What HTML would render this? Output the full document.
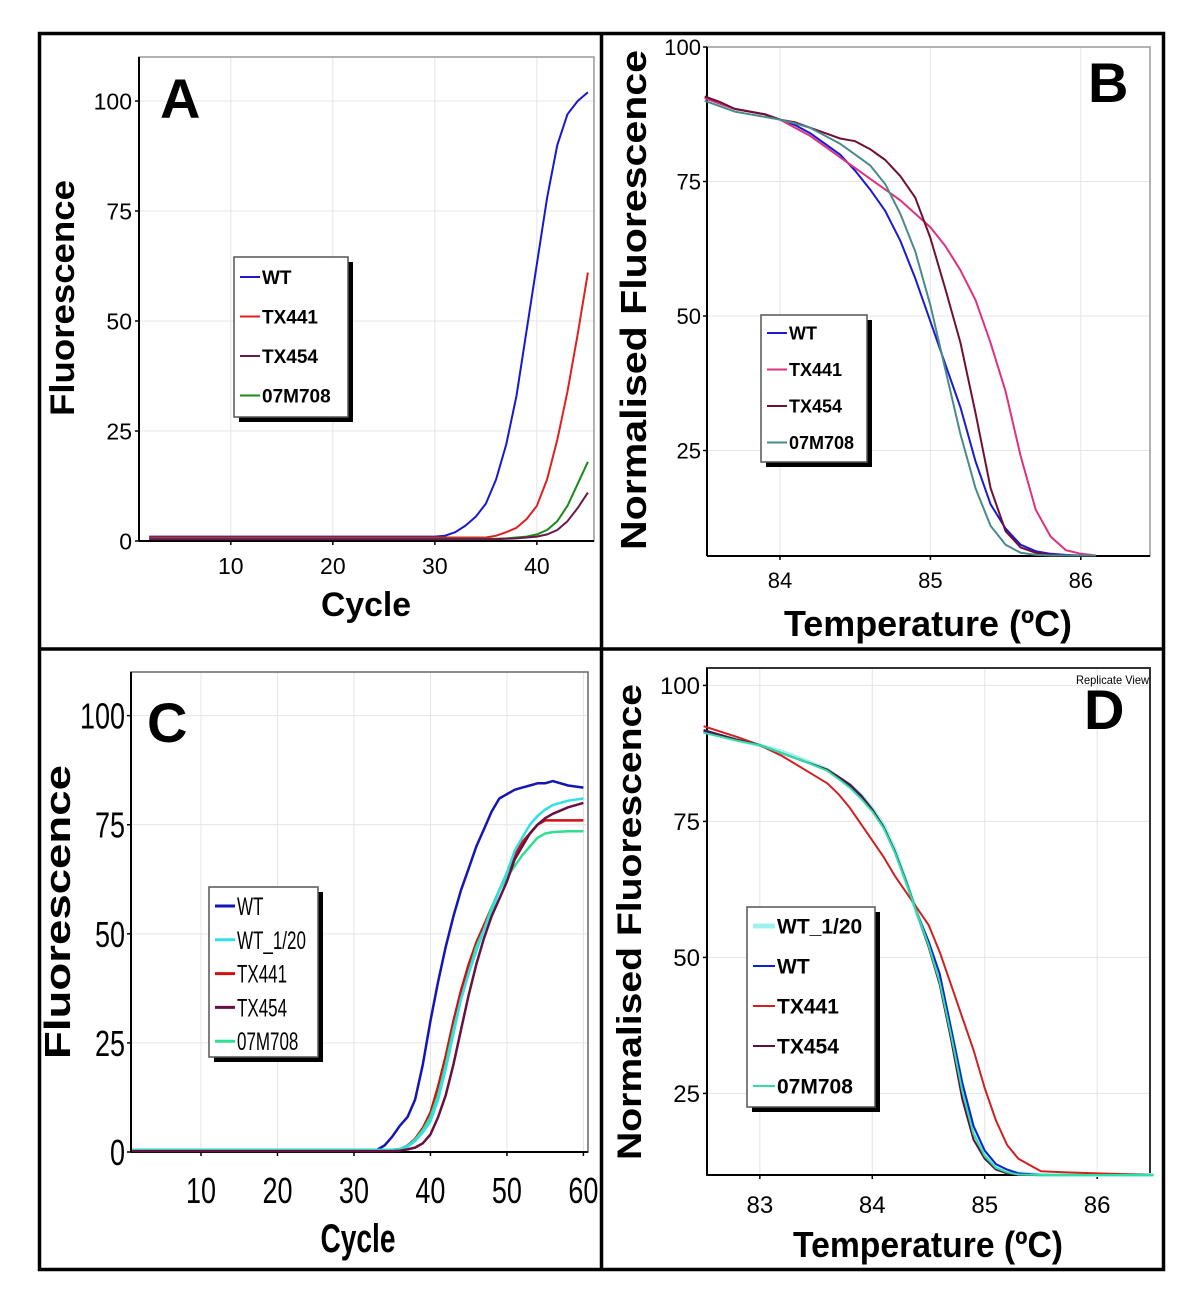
<!DOCTYPE html>
<html><head><meta charset="utf-8"><style>
html,body{margin:0;padding:0;background:#fff;}
svg{display:block;}
text{font-family:"Liberation Sans",sans-serif;}
</style></head><body>
<svg id="fig" width="1200" height="1292" viewBox="0 0 1200 1292" xmlns="http://www.w3.org/2000/svg">
<rect x="0" y="0" width="1200" height="1292" fill="#fff"/>
<g id="frame">
<rect x="39.5" y="33.5" width="1124" height="1236" fill="none" stroke="#000" stroke-width="3.5"/>
<line x1="601.5" y1="33" x2="601.5" y2="1270" stroke="#000" stroke-width="3.5"/>
<line x1="39" y1="649" x2="1164" y2="649" stroke="#000" stroke-width="3.5"/>
</g>
</svg>
<script>
// ---------- Panel A data ----------
const aCycles = [2,5,10,15,20,25,30,31,32,33,34,35,36,37,38,39,40,41,42,43,44,45];
const aWT     = [1,1,1,1,1,1,1,1.2,2,3.5,5.5,8.5,14,22,33,48,63,78,90,97,100,102];
const aTX441  = [0.8,0.8,0.8,0.8,0.8,0.8,0.8,0.8,0.8,0.8,0.8,0.8,1.2,2,3,5,8,14,23,34,47,61];
const aTX454  = [0.4,0.4,0.4,0.4,0.4,0.4,0.4,0.4,0.4,0.4,0.4,0.4,0.4,0.5,0.6,0.8,1,1.5,2.5,4.5,7.5,11];
const a07M708 = [0.5,0.5,0.5,0.5,0.5,0.5,0.5,0.5,0.5,0.5,0.5,0.5,0.5,0.6,0.8,1,1.5,2.5,4.5,8,13,18];
const aXTicks = [10,20,30,40];
const aYTicks = [0,25,50,75,100];

// ---------- Panel B data ----------
const bTemps  = [83.5,83.6,83.7,83.8,83.9,84.0,84.1,84.2,84.3,84.4,84.5,84.6,84.7,84.8,84.9,85.0,85.1,85.2,85.3,85.4,85.5,85.6,85.7,85.8,85.9,86.0,86.1];
const bWT     = [90.5,89.5,88.5,88,87.5,86.5,85.5,84,82,80,77,73.5,69.5,64,57,49,41,33,23,15,10.5,7.5,6.3,5.8,5.6,5.5,5.5];
const bTX441  = [90.5,89.5,88.5,88,87.5,86.5,85,83.5,81.5,79.5,77.5,75.5,73.5,71.5,69,66.5,63,58.5,53,45,36,24,14,9,6.5,5.8,5.5];
const bTX454  = [90.8,89.8,88.5,88,87.5,86.5,86,85,84,83,82.5,81,79,76,72,64.5,55,45,32,18,10,7,6,5.6,5.5,5.5,5.5];
const b07M708 = [90,89,88,87.5,87,86.5,85.8,85,83.5,82,80,78,74.5,69,62,52,40,28,18,11,7.5,6,5.6,5.5,5.5,5.5,5.5];
const bXTicks = [84,85,86];
const bYTicks = [25,50,75,100];

// ---------- Panel C data ----------
const cCycles = [1,10,20,30,33,34,35,36,37,38,39,40,41,42,43,44,45,46,47,48,49,50,51,52,53,54,55,56,58,60];
const cWT     = [0.5,0.5,0.5,0.5,0.5,1.5,3.5,6,8,12,20,30,39,47,54,60,65,70,74,78,81,82,83,83.5,84,84.5,84.5,85,84,83.5];
const cWT120  = [0.4,0.4,0.4,0.4,0.4,0.4,0.4,0.6,1.2,2.5,4.5,7,12,19,27,35,41,46,51,55,60,64,69,72,75,77,78.5,79.5,80.5,81];
const cTX441  = [0.3,0.3,0.3,0.3,0.3,0.3,0.4,0.6,1.5,3,5.5,9,15,22,30,37,43,48,52,56,60,64,68,71,73,75,76,76,76,76];
const cTX454  = [0.2,0.2,0.2,0.2,0.2,0.2,0.2,0.3,0.6,1,2,4,8,13,20,28,36,43,49,54,58,62,67,70,73,75,76.5,77.5,79,80];
const c07M708 = [0.5,0.5,0.5,0.5,0.5,0.5,0.5,0.7,1.4,2.8,5,8,13,20,28,35,41,47,51,56,60,63,65.5,68,70,72,73,73.3,73.5,73.5];
const cXTicks = [10,20,30,40,50,60];
const cYTicks = [0,25,50,75,100];

// ---------- Panel D data ----------
const dTemps  = [82.5,82.8,83.0,83.2,83.4,83.6,83.7,83.8,83.9,84.0,84.1,84.2,84.3,84.4,84.5,84.6,84.7,84.8,84.9,85.0,85.1,85.2,85.3,85.5,85.7,86.0,86.5];
const dWT120  = [91.5,90,89,87.8,86.2,84.5,83,81.7,79.8,77.3,74.3,69.8,64,58,52.5,46,36.5,26.5,18.5,14,11.7,10.8,10.3,10,10,10,10];
const dWT     = [91.5,90,89,87.5,86,84.5,83,81.5,79.5,77,74,69.5,64,58,53,47,37,27,19,14.5,12,11,10.3,10,10,10,10];
const dTX441  = [92.5,90.5,89,87,84.5,82,80,77.5,74.5,71.5,68.5,65,62,59,56,51,45,39,33,26,20,15.5,13,10.7,10.5,10.3,10];
const dTX454  = [91.8,90,89,87.5,86,84.5,83.2,81.8,79.8,77.2,74,69.5,64,58,52,45,35,24,16.5,13,11,10.3,10,10,10,10,10];
const d07M708 = [91.3,89.8,89,87.5,86,84.3,82.8,81.2,79.2,76.8,73.8,69.3,63.8,58,52.3,45.5,35.8,25.5,17.5,13.5,11.3,10.5,10.1,10,10,10,10];
const dXTicks = [83,84,85,86];
const dYTicks = [25,50,75,100];

const NS = "http://www.w3.org/2000/svg";
const svg = document.getElementById('fig');
function mk(tag, attrs, parent){
  const e = document.createElementNS(NS, tag);
  for (const k in attrs) e.setAttribute(k, attrs[k]);
  (parent||svg).appendChild(e);
  return e;
}
function linScale(d0,d1,r0,r1){ return v => r0 + (v-d0)/(d1-d0)*(r1-r0); }

function drawPanel(p){
  const g = mk('g',{});
  
  
  const X = linScale(p.xd[0],p.xd[1],p.l,p.r);
  const Y = linScale(p.yd[0],p.yd[1],p.b,p.t);
  const grid = mk('g',{},g);
  
  
  p.xt.forEach(v=>{ mk('line',{x1:X(v),x2:X(v),y1:p.t,y2:p.b,stroke:'#e4e4e4','stroke-width':1},grid); });
  p.yt.forEach(v=>{ mk('line',{x1:p.l,x2:p.r,y1:Y(v),y2:Y(v),stroke:'#e4e4e4','stroke-width':1},grid); });
  const box = mk('rect',{x:p.l,y:p.t,width:p.r-p.l,height:p.b-p.t,fill:'none',stroke:p.boxColor,'stroke-width':p.boxW},g);
  
  
  const ax = mk('g',{},g);
  
  
  mk('line',{x1:p.l,x2:p.l,y1:p.t,y2:p.b,stroke:'#000','stroke-width':2},ax);
  mk('line',{x1:p.l,x2:p.r,y1:p.b,y2:p.b,stroke:'#000','stroke-width':2},ax);
  const xl = mk('g',{},g);
  
  
  p.xt.forEach(v=>{
    mk('line',{x1:X(v),x2:X(v),y1:p.b,y2:p.b+4,stroke:'#000','stroke-width':1.5},xl);
    const t = mk('text',{x:X(v),y:p.xlY,'text-anchor':'middle','font-size':p.tf,'font-family':p.tfam,transform:p.tsx?`translate(${X(v)},0) scale(${p.tsx},1) translate(${-X(v)},0)`:''},xl);
    t.textContent = v;
  });
  const yl = mk('g',{},g);
  
  
  p.yt.forEach(v=>{
    mk('line',{x1:p.l-4,x2:p.l,y1:Y(v),y2:Y(v),stroke:'#000','stroke-width':1.5},yl);
    const t = mk('text',{x:p.ylX,y:Y(v)+p.tf*0.36,'text-anchor':'end','font-size':p.tf,'font-family':p.tfam,transform:p.tsx?`translate(${p.ylX},0) scale(${p.tsx},1) translate(${-p.ylX},0)`:''},yl);
    t.textContent = v;
  });
  p.series.forEach(s=>{
    const d = p.xs.map((x,i)=>(i?'L':'M')+X(x).toFixed(1)+','+Y(s.v[i]).toFixed(1)).join(' ');
    const path = mk('path',{d:d,fill:'none',stroke:s.c,'stroke-width':s.w||2,'stroke-linejoin':'round'},g);
    
    
  });
  const yt = mk('text',{x:0,y:0,'font-size':p.ytf,'font-weight':'bold','text-anchor':'middle',textLength:p.ytLen,lengthAdjust:'spacingAndGlyphs',transform:`translate(${p.ytX},${p.ytY}) rotate(-90)`},g);
  yt.textContent = p.ytTxt;
  
  
  const xtt = mk('text',{x:p.xtX - p.xtLen/2,y:p.xtY,'font-size':p.xtf,'font-weight':'bold','font-family':p.xtfam||'Liberation Sans',textLength:p.xtLen,lengthAdjust:'spacingAndGlyphs'},g);
  xtt.textContent = p.xtTxt;
  
  
  const L = mk('text',{x:p.letX,y:p.letY,'font-size':56,'font-weight':'bold'},g);
  L.textContent = p.letter;
  
  
  const lg = mk('g',{},g);
  
  
  const lb = p.leg;
  mk('rect',{x:lb.x+5,y:lb.y+5,width:lb.w,height:lb.h,fill:'#000'},lg);
  mk('rect',{x:lb.x,y:lb.y,width:lb.w,height:lb.h,fill:'#fff',stroke:'#555','stroke-width':1.5},lg);
  p.series.slice().sort((a,b)=>a.li-b.li).forEach((s,i)=>{
    const yy = lb.y0 + i*lb.dy;
    const e = mk('g',{},lg);
    
    
    mk('line',{x1:lb.x+6,x2:lb.x+lb.lw,y1:yy,y2:yy,stroke:s.c,'stroke-width':s.lgw||2},e);
    const t = mk('text',{x:lb.x+lb.lw+2,y:yy+lb.fs*0.36,'font-size':lb.fs,'font-weight':lb.bold?'bold':'normal','font-family':lb.fam||'Liberation Sans',transform:lb.sx?`translate(${lb.x+lb.lw+2},0) scale(${lb.sx},1) translate(${-(lb.x+lb.lw+2)},0)`:''},e);
    t.textContent = s.n;
  });
}

drawPanel({id:'panel-a',name:'panel-a-amplification-chart',letter:'A',letX:160,letY:118,
  l:139,r:594,t:57,b:541,xd:[1,45.6],yd:[0,110],xs:aCycles,xt:aXTicks,yt:aYTicks,
  boxColor:'#999',boxW:1.5,tf:23,tfam:'Liberation Sans',xlY:574,ylX:132,
  ytTxt:'Fluorescence',ytf:34,ytLen:236,ytX:74,ytY:298,
  xtTxt:'Cycle',xtf:34,xtLen:90,xtX:366,xtY:616,
  leg:{x:234,y:257,w:114,h:160,y0:277,dy:39.5,lw:26,fs:19,bold:true},
  series:[{n:'WT',v:aWT,c:'#1818d0',li:0},{n:'TX441',v:aTX441,c:'#e02020',li:1},
          {n:'07M708',v:a07M708,c:'#1a8a1a',li:3},{n:'TX454',v:aTX454,c:'#6a1a4a',li:2}]});

drawPanel({id:'panel-b',name:'panel-b-melt-curve-chart',letter:'B',letX:1088,letY:102,
  l:707,r:1150,t:47,b:556,xd:[83.515,86.46],yd:[5.4,100],xs:bTemps,xt:bXTicks,yt:bYTicks,
  boxColor:'#999',boxW:1.5,tf:22,tfam:'Liberation Sans',xlY:588,ylX:701,
  ytTxt:'Normalised Fluorescence',ytf:36,ytLen:500,ytX:646,ytY:300,
  xtTxt:'Temperature (ºC)',xtf:36,xtLen:288,xtX:928,xtY:636,
  leg:{x:761,y:315,w:106,h:147,y0:333,dy:36.5,lw:26,fs:18,bold:true},
  series:[{n:'WT',v:bWT,c:'#1a1ad0',li:0},{n:'TX441',v:bTX441,c:'#e03080',li:1},
          {n:'TX454',v:bTX454,c:'#701030',li:2},{n:'07M708',v:b07M708,c:'#4a8a8a',li:3}]});

drawPanel({id:'panel-c',name:'panel-c-amplification-chart',letter:'C',letX:147,letY:742,
  l:131,r:588,t:672,b:1152,xd:[0.85,60.6],yd:[0,110],xs:cCycles,xt:cXTicks,yt:cYTicks,
  boxColor:'#666',boxW:1.5,tf:36,tfam:'Liberation Sans Narrow, Liberation Sans',tsx:0.75,xlY:1203,ylX:125,
  ytTxt:'Fluorescence',ytf:36,ytLen:294,ytX:70,ytY:912,
  xtTxt:'Cycle',xtf:40,xtLen:75,xtX:358,xtY:1252,xtfam:'Liberation Sans Narrow',
  leg:{x:209,y:887,w:109,h:170,y0:906,dy:33.8,lw:26,fs:25,bold:false,fam:'Liberation Sans Narrow, Liberation Sans',sx:0.68},
  series:[{n:'WT',v:cWT,c:'#1515b5',w:2.5,lgw:3,li:0},{n:'TX441',v:cTX441,c:'#d01010',w:2.5,lgw:3,li:2},
          {n:'07M708',v:c07M708,c:'#30e090',w:2.5,lgw:3,li:4},{n:'WT_1/20',v:cWT120,c:'#30e0e8',w:2.5,lgw:3,li:1},
          {n:'TX454',v:cTX454,c:'#6a1040',w:2.5,lgw:3,li:3}]});

drawPanel({id:'panel-d',name:'panel-d-melt-curve-chart',letter:'D',letX:1084,letY:729,
  l:707,r:1150,t:668,b:1175,xd:[82.53,86.47],yd:[10,103.2],xs:dTemps,xt:dXTicks,yt:dYTicks,
  boxColor:'#333',boxW:2,tf:24,tfam:'Liberation Sans',xlY:1213,ylX:700,
  ytTxt:'Normalised Fluorescence',ytf:34,ytLen:476,ytX:641,ytY:922,
  xtTxt:'Temperature (ºC)',xtf:36,xtLen:270,xtX:928,xtY:1257,
  leg:{x:747,y:907,w:128,h:200,y0:926,dy:40,lw:28,fs:21,bold:true},
  series:[{n:'WT_1/20',v:dWT120,c:'#a0f0f0',w:4,lgw:5,li:0},{n:'TX441',v:dTX441,c:'#d02020',li:2},
          {n:'WT',v:dWT,c:'#1020d0',li:1},{n:'TX454',v:dTX454,c:'#5a1040',li:3},
          {n:'07M708',v:d07M708,c:'#30e0a0',li:4}]});

const rv = mk('text',{x:1076,y:684,'font-size':12,'font-family':'Liberation Sans Narrow, Liberation Sans',textLength:73,lengthAdjust:'spacingAndGlyphs'});
rv.textContent = 'Replicate View';


</script>
</body></html>
